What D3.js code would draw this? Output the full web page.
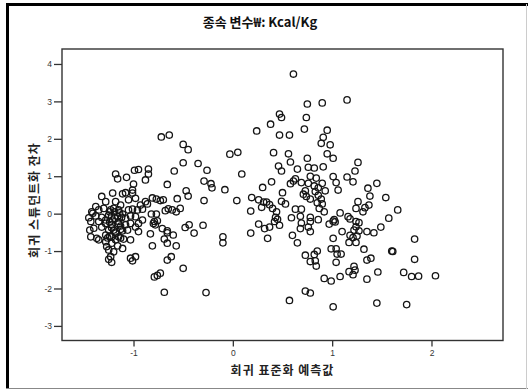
<!DOCTYPE html>
<html>
<head>
<meta charset="utf-8">
<script src="https://cdn.jsdelivr.net/npm/d3@7"></script>
<style>
  body { margin: 0; background: #fff; }
  svg { display: block; }
</style>
</head>
<body>
<svg id="chart" width="528" height="390"></svg>
<script>
const title = "종속 변수₩: Kcal/Kg";
const xLabel = "회귀 표준화 예측값";
const yLabel = "회귀 스튜던트화 잔차";
const xTicks = [-1, 0, 1, 2];
const yTicks = [-3, -2, -1, 0, 1, 2, 3, 4];
const xDomain = [-1.72, 2.72];
const yDomain = [-3.39, 4.40];

// [standardized predicted, studentized residual]
const points = [
  [0.61,3.73],[0.75,2.93],[0.90,2.96],[0.47,2.66],[0.49,2.57],[0.74,2.57],[0.38,2.39],[0.24,2.21],
  [0.47,2.10],[0.57,2.10],[0.72,2.26],[0.95,2.23],[0.91,2.04],[0.89,1.88],[0.98,1.84],[-0.03,1.59],
  [0.05,1.64],[0.41,1.63],[0.56,1.60],[0.58,1.38],[0.75,1.48],[0.95,1.60],[1.01,1.48],[0.46,1.27],
  [0.49,1.14],[0.65,1.19],[0.76,1.24],[0.82,1.22],[0.91,1.25],[0.09,1.06],[0.78,1.00],[0.84,0.95],
  [1.01,0.99],[1.04,0.83],[1.06,0.63],[0.63,0.93],[0.61,0.87],[0.58,0.80],[0.39,0.85],[0.76,0.81],
  [0.82,0.74],[0.90,0.81],[0.86,0.69],[0.93,0.61],[0.30,0.70],[0.50,0.56],[0.73,0.61],[0.71,0.52],
  [0.74,0.46],[0.78,0.39],[0.83,0.59],[0.86,0.49],[0.89,0.39],[0.85,0.29],[0.90,0.26],[0.87,0.14],
  [0.92,0.05],[0.04,0.35],[0.19,0.43],[0.26,0.37],[0.31,0.31],[0.34,0.31],[0.37,0.24],[0.29,0.17],
  [0.40,0.14],[0.49,0.33],[0.53,0.26],[0.18,0.07],[0.44,0.05],[0.43,-0.10],[0.45,-0.15],[0.42,-0.21],
  [0.47,-0.31],[0.63,0.12],[0.69,0.12],[0.59,-0.11],[0.68,-0.07],[0.69,-0.25],[0.78,-0.10],[0.78,-0.21],
  [0.86,-0.16],[0.76,-0.36],[0.78,-0.48],[0.68,-0.40],[0.26,-0.28],[0.32,-0.40],[0.37,-0.36],[0.18,-0.52],
  [0.35,-0.66],[0.60,-0.58],[0.65,-0.78],[1.01,-0.20],[1.02,-0.16],[1.03,-0.22],[0.97,-0.28],[1.01,-0.66],
  [0.73,-1.11],[0.78,-1.28],[0.82,-1.09],[0.85,-1.00],[0.83,-1.26],[0.84,-1.40],[0.99,-0.94],[1.04,-0.94],
  [1.05,-1.08],[1.09,-1.08],[1.04,-1.30],[0.92,-1.73],[0.99,-1.80],[0.73,-2.07],[0.78,-2.12],[0.57,-2.32],
  [1.01,-2.49],[1.08,-1.68],[1.15,3.04],[1.26,1.37],[1.23,1.14],[1.15,0.98],[1.21,0.85],[1.36,0.68],
  [1.45,0.81],[1.38,0.47],[1.54,0.43],[1.26,0.32],[1.24,0.14],[1.31,0.05],[1.33,0.16],[1.37,0.23],
  [1.66,0.10],[1.08,0.02],[1.16,-0.08],[1.18,-0.14],[1.24,-0.21],[1.27,-0.24],[1.24,-0.35],[1.22,-0.44],
  [1.27,-0.46],[1.10,-0.48],[1.57,-0.12],[1.49,-0.36],[1.35,-0.48],[1.42,-0.51],[1.18,-0.58],[1.21,-0.64],
  [1.25,-0.60],[1.17,-0.77],[1.24,-0.77],[1.83,-0.68],[1.32,-0.95],[1.60,-1.00],[1.61,-1.01],[1.35,-1.24],
  [1.39,-1.19],[1.83,-1.22],[1.22,-1.41],[1.23,-1.51],[1.17,-1.55],[1.21,-1.63],[1.46,-1.56],[1.35,-1.75],
  [1.72,-1.57],[1.80,-1.68],[1.87,-1.67],[2.04,-1.66],[1.45,-2.39],[1.75,-2.43],[0.69,0.83],
  [-0.72,2.05],[-0.64,2.10],[-0.50,1.85],[-0.45,1.71],[-0.50,1.36],[-0.35,1.34],[-0.59,1.14],[-0.26,1.16],
  [-0.85,1.19],[-0.85,1.06],[-0.88,0.90],[-0.66,0.78],[-0.29,0.87],[-0.22,0.80],[-0.21,0.69],[-0.08,0.64],
  [-0.47,0.61],[-0.45,0.47],[-0.81,0.42],[-0.77,0.39],[-0.70,0.37],[-0.73,0.35],[-0.56,0.40],[-0.29,0.35],
  [-0.86,0.26],[-0.53,0.14],[-0.65,0.13],[-0.68,0.08],[-0.61,0.10],[-0.57,0.05],[-0.82,-0.01],[-0.77,-0.01],
  [-0.79,-0.21],[-0.76,-0.19],[-0.80,-0.26],[-0.78,-0.30],[-0.44,-0.30],[-0.48,-0.37],[-0.30,-0.31],[-0.71,-0.40],
  [-0.66,-0.46],[-0.66,-0.51],[-0.60,-0.57],[-0.39,-0.52],[-0.83,-0.54],[-0.10,-0.62],[-0.10,-0.78],[-0.69,-0.68],
  [-0.66,-0.79],[-0.81,-0.86],[-0.57,-0.86],[-0.62,-1.15],[-0.66,-1.24],[-0.50,-1.46],[-0.73,-1.59],[-0.76,-1.65],
  [-0.79,-1.69],[-0.69,-2.10],[-0.27,-2.11],
  [-1.18,1.06],[-1.16,0.93],[-1.07,0.97],[-0.99,1.16],[-0.95,1.18],[-1.00,0.79],[-1.01,0.63],[-1.01,0.55],
  [-1.32,0.46],[-1.21,0.55],[-1.11,0.53],[-1.08,0.56],[-1.28,0.32],[-1.18,0.32],[-1.13,0.23],[-1.05,0.37],
  [-0.98,0.41],[-0.93,0.23],[-0.88,0.32],[-1.38,0.19],[-1.35,0.10],[-1.42,0.05],[-1.30,0.14],[-1.23,0.10],
  [-1.20,0.14],[-1.15,0.10],[-1.05,0.10],[-1.01,0.12],[-0.96,0.10],[-0.91,0.12],[-1.45,-0.11],[-1.38,-0.06],
  [-1.32,-0.10],[-1.25,-0.04],[-1.22,-0.06],[-1.16,-0.08],[-1.12,-0.10],[-1.03,-0.06],[-0.98,-0.08],[-0.91,-0.17],
  [-1.43,-0.21],[-1.35,-0.21],[-1.28,-0.26],[-1.22,-0.30],[-1.15,-0.21],[-1.08,-0.30],[-1.03,-0.26],[-0.95,-0.26],
  [-1.40,-0.39],[-1.32,-0.36],[-1.25,-0.44],[-1.20,-0.44],[-1.13,-0.42],[-1.06,-0.44],[-0.98,-0.36],[-0.95,-0.48],
  [-1.43,-0.62],[-1.37,-0.66],[-1.28,-0.57],[-1.22,-0.62],[-1.15,-0.62],[-1.10,-0.68],[-1.03,-0.70],[-1.35,-0.70],
  [-1.28,-0.75],[-1.22,-0.79],[-1.27,-0.88],[-1.25,-0.97],[-1.16,-0.86],[-1.11,-0.93],[-1.20,-1.02],[-1.23,-1.15],
  [-1.25,-1.22],[-1.22,-1.30],[-1.03,-1.19],[-0.98,-1.15],[-1.01,-1.26],[-1.41,0.01],[-1.44,-0.44],[-1.19,0.05],
  [-1.24,-0.22],[-1.13,-0.33],[-1.18,-0.52],[-1.11,-0.46],[-1.26,-0.65],[-1.18,-0.70],[-1.21,-0.17],[-1.08,-0.12],
  [-1.14,0.02],[-1.24,0.05],[-1.19,-0.12],[-1.15,-0.28],[-1.22,-0.38],[-1.18,-0.49],[-1.13,-0.65],[-1.24,-0.60],
  [-1.11,-0.01],[-1.28,-0.17]
];

const plot = {left: 62, top: 49, right: 503, bottom: 340.5};

const svg = d3.select("svg#chart");

// outer frame: heavy top/left, light right/bottom
svg.append("line").attr("x1", 6).attr("x2", 528).attr("y1", 4.5).attr("y2", 4.5)
  .attr("stroke", "#000").attr("stroke-width", 3);
svg.append("line").attr("x1", 7.5).attr("x2", 7.5).attr("y1", 3).attr("y2", 389)
  .attr("stroke", "#000").attr("stroke-width", 3);
svg.append("line").attr("x1", 6).attr("x2", 528).attr("y1", 388.5).attr("y2", 388.5)
  .attr("stroke", "#888").attr("stroke-width", 1);
svg.append("line").attr("x1", 526.5).attr("x2", 526.5).attr("y1", 4).attr("y2", 389)
  .attr("stroke", "#ccc").attr("stroke-width", 1);

const x = d3.scaleLinear().domain(xDomain).range([plot.left, plot.right]);
const y = d3.scaleLinear().domain(yDomain).range([plot.bottom, plot.top]);

svg.append("text")
  .attr("x", 260).attr("y", 26.5)
  .attr("text-anchor", "middle")
  .attr("font-family", "'Noto Sans CJK KR', 'Noto Sans', sans-serif")
  .attr("font-size", 13)
  .attr("font-weight", 600)
  .attr("fill", "#111")
  .text(title);

const xAxis = svg.append("g")
  .attr("transform", `translate(0,${plot.bottom})`)
  .call(d3.axisBottom(x).tickValues(xTicks).tickSize(6).tickPadding(3).tickFormat(d => String(d)));

const yAxis = svg.append("g")
  .attr("transform", `translate(${plot.left},0)`)
  .call(d3.axisLeft(y).tickValues(yTicks).tickSize(8).tickPadding(2).tickFormat(d => String(d)));

[xAxis, yAxis].forEach(g => {
  g.select(".domain").remove();
  g.selectAll(".tick line").attr("stroke", "#333").attr("stroke-width", 1.3);
  g.selectAll(".tick text")
    .attr("font-family", "'Liberation Sans', Arial, sans-serif")
    .attr("font-size", 8.5)
    .attr("fill", "#333");
});

svg.append("rect")
  .attr("x", plot.left).attr("y", plot.top)
  .attr("width", plot.right - plot.left).attr("height", plot.bottom - plot.top)
  .attr("fill", "none").attr("stroke", "#333").attr("stroke-width", 1.4);

svg.append("g")
  .selectAll("circle")
  .data(points)
  .join("circle")
  .attr("cx", d => x(d[0]))
  .attr("cy", d => y(d[1]))
  .attr("r", 3.2)
  .attr("fill", "none")
  .attr("stroke", "#151515")
  .attr("stroke-width", 1.3);

svg.append("text")
  .attr("x", (plot.left + plot.right) / 2).attr("y", 375)
  .attr("text-anchor", "middle")
  .attr("font-family", "'Noto Sans CJK KR', sans-serif")
  .attr("font-size", 12).attr("font-weight", "bold")
  .attr("letter-spacing", 1)
  .attr("fill", "#222")
  .text(xLabel);

svg.append("text")
  .attr("transform", `translate(39,200) rotate(-90)`)
  .attr("text-anchor", "middle")
  .attr("font-family", "'Noto Sans CJK KR', sans-serif")
  .attr("font-size", 12).attr("font-weight", "bold")
  .attr("letter-spacing", 1)
  .attr("fill", "#222")
  .text(yLabel);
</script>
</body>
</html>
